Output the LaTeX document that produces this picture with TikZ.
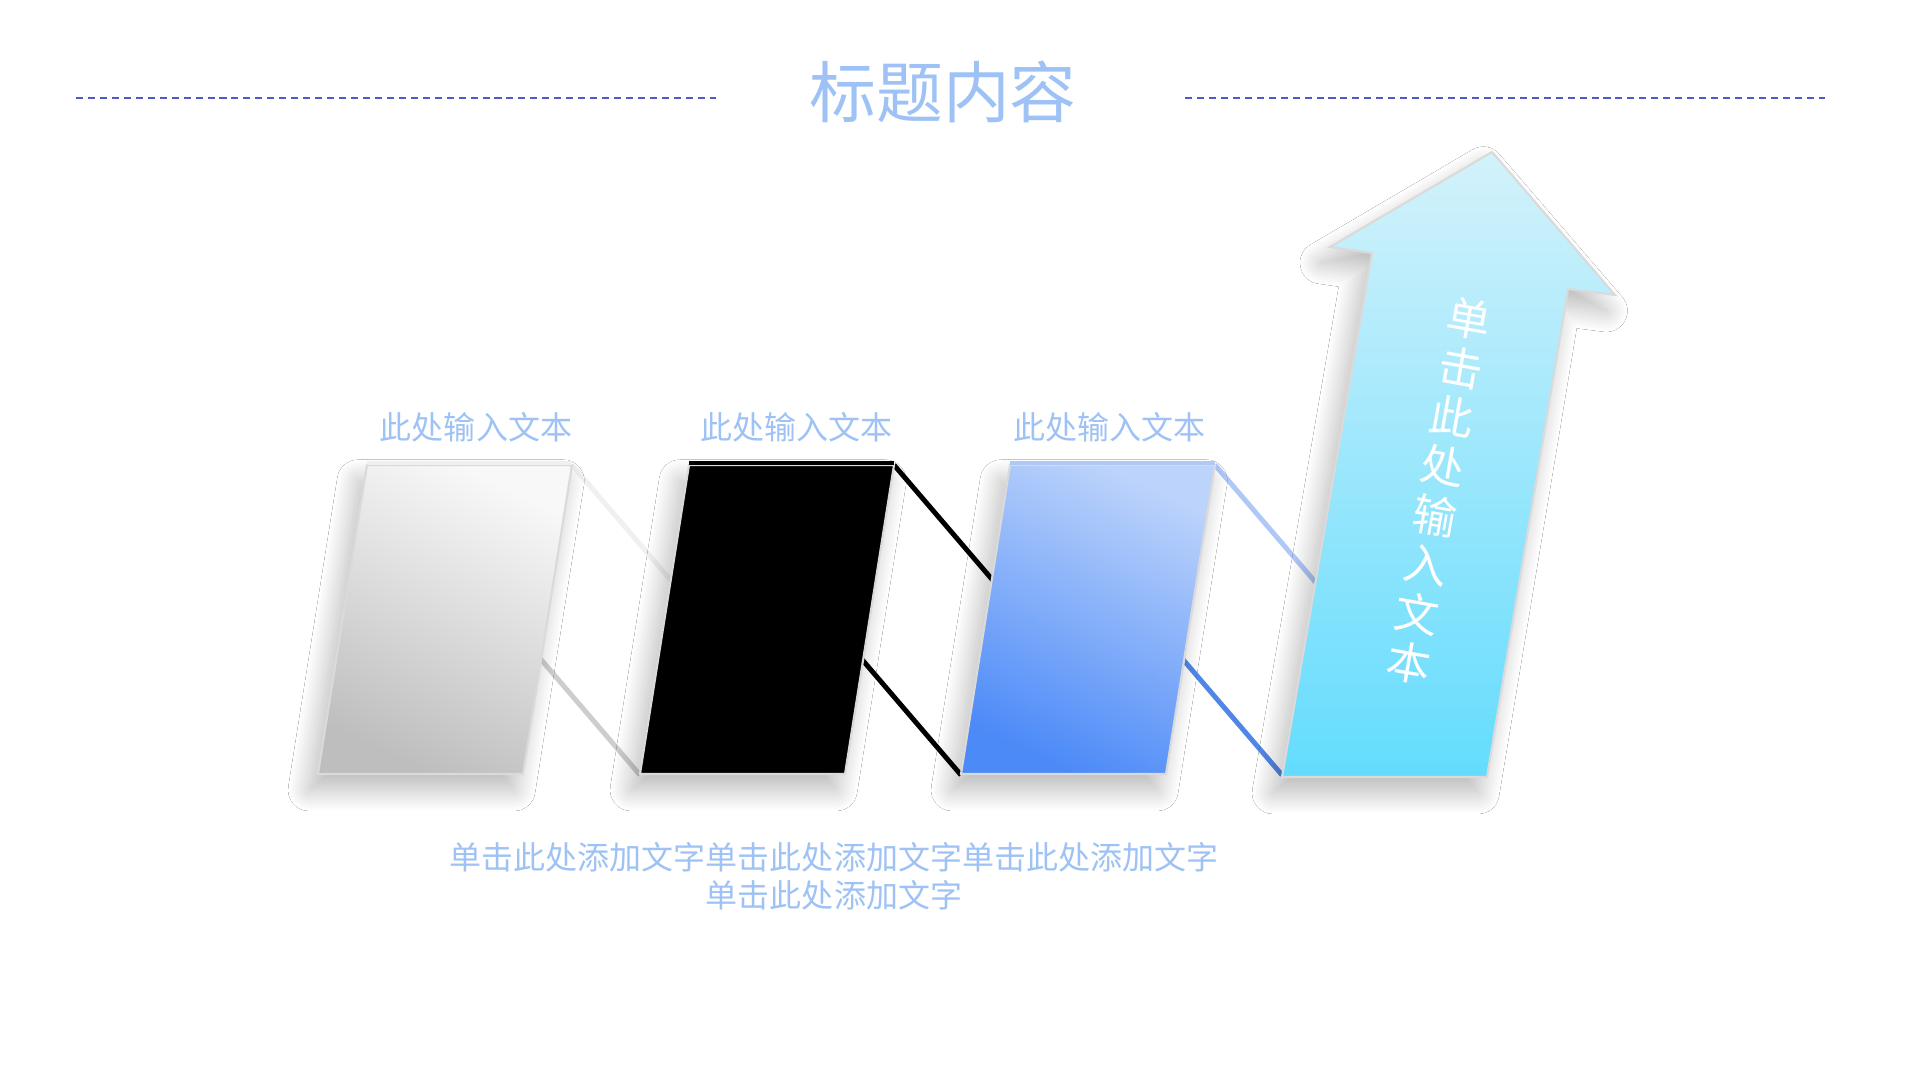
\documentclass[tikz,border=0pt]{standalone}
\usepackage{fontspec}
\newfontfamily\cjk{Noto Sans CJK SC}
\usetikzlibrary{positioning,shadows.blur}
\definecolor{titleblue}{HTML}{9EC2F5}
\definecolor{dashblue}{HTML}{4F5BC4}
\definecolor{edgegray}{HTML}{DADADA}
\definecolor{grayhi}{HTML}{F8F8F8}
\definecolor{graylo}{HTML}{BEBEBE}
\definecolor{bluehi}{HTML}{BCD3FB}
\definecolor{bluelo}{HTML}{4C8AF8}
\definecolor{arrowtop}{HTML}{D3F2FB}
\definecolor{arrowbot}{HTML}{64DCFD}
\definecolor{foldgrayup}{HTML}{F0F0F0}
\definecolor{foldgraylo}{HTML}{CDCDCD}
\definecolor{foldblueup}{HTML}{AFC8F8}
\definecolor{foldbluelo}{HTML}{5286E6}

\begin{document}
\begin{tikzpicture}[
  x=0.01cm, y=-0.01cm,
  ttl/.style={font=\fontsize{19pt}{22pt}\selectfont\cjk, text=titleblue, inner sep=0pt},
  lbl/.style={font=\fontsize{9.1pt}{10.8pt}\selectfont\cjk, text=titleblue, inner sep=0pt},
  vtxt/.style={font=\fontsize{12.5pt}{14.2pt}\selectfont\cjk, text=white, inner sep=0pt, align=center},
  dashline/.style={dashblue, line width=0.6pt, dash pattern=on 2pt off 1.4pt},
  fold/.style={line width=1.4pt},
  panel/.style={draw=edgegray, line width=0.6pt,
                blur shadow={shadow xshift=-2.5pt, shadow yshift=-4.5pt, shadow blur radius=6pt,
                             shadow blur steps=30, shadow opacity=28}},
  pgray/.style={panel, top color=grayhi, bottom color=graylo, shading angle=-25},
  pblack/.style={panel, fill=black},
  pblue/.style={panel, top color=bluehi, bottom color=bluelo, shading angle=-25},
  parrow/.style={panel, top color=arrowtop, bottom color=arrowbot},
]
  \fill[white] (0,0) rectangle (1920,1080);

  % title and dashed rules
  \node[ttl] (title) at (943,92) {标题内容};
  \coordinate (dl1) at (76,98);
  \coordinate (dl2) at (716,98);
  \coordinate (dr1) at (1185,98);
  \coordinate (dr2) at (1825,98);
  \draw[dashline] (dl1) -- (dl2);
  \draw[dashline] (dr1) -- (dr2);

  % folds behind the panels
  \foreach \a/\b/\cu/\cl in {572/640/foldgrayup/foldgraylo, 894/961/black/black, 1215/1282/foldblueup/foldbluelo} {
    \draw[fold, \cu] (\a,465) -- ++(120,140);
    \draw[fold, \cl] (\b,775) -- ++(-120,-140);
  }

  % panels
  \foreach \x/\sty in {318/pgray, 640/pblack, 961/pblue} {
    \path[\sty] (\x+49,465) -- (\x+254,465) -- (\x+205,774) -- (\x,774) -- cycle;
  }
  \draw[fold, foldgrayup] (367,463) -- (572,463);
  \draw[fold, black] (689,463) -- (894,463);
  \draw[fold, foldblueup] (1010,463) -- (1215,463);

  % arrow
  \path[parrow] (1282,777) -- (1372,253) -- (1330,247) -- (1492,152)
    -- (1615,295) -- (1568,289) -- (1487,777) -- cycle;
  \node[vtxt, rotate=-10] (atext) at (1439,491) {单\\击\\此\\处\\输\\入\\文\\本};

  % labels
  \foreach \lx/\i in {476/1, 796/2, 1109/3} {
    \coordinate (t\i) at (\lx,465);
    \node[lbl, above=0.22cm of t\i] (lab\i) {此处输入文本};
  }
  \node[lbl, align=center] (desc) at (834,876) {单击此处添加文字单击此处添加文字单击此处添加文字\\单击此处添加文字};
\end{tikzpicture}
\end{document}
